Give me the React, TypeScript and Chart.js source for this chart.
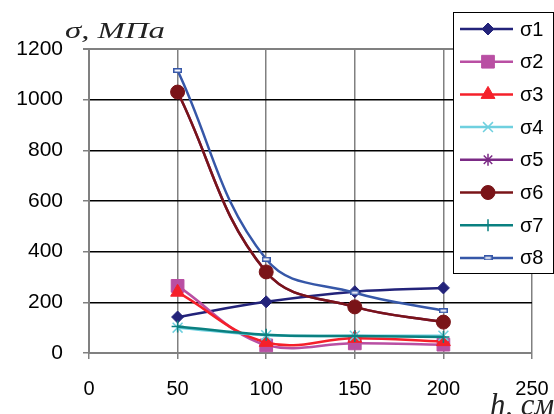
import React, { useEffect, useRef } from "react";
import { Chart, registerables } from "chart.js";
import { drawPoint } from "chart.js/helpers";

Chart.register(...registerables);

const heights = [50, 100, 150, 200];
const seriesNames = ["σ1", "σ2", "σ3", "σ4", "σ5", "σ6", "σ7", "σ8"];
const s1 = [142, 202, 242, 257];
const s2 = [265, 30, 38, 33];
const s3 = [240, 42, 58, 45];
const s4 = [100, 70, 68, 68];
const s5 = [1030, 320, 182, 122];
const s6 = [1030, 320, 182, 122];
const s7 = [105, 72, 67, 63];
const s8 = [1115, 370, 238, 167];
const seriesValues = [s1, s2, s3, s4, s5, s6, s7, s8];
const yTitle = "σ, МПа";
const xTitle = "h, см";

const colors = ["#23237A", "#B94FA3", "#F5202A", "#6FD0DF", "#7B2A85", "#7A1418", "#0A8080", "#3657A8"];

function makeDashMarker(color: string) {
  const c = document.createElement("canvas");
  c.width = 9;
  c.height = 5;
  const g = c.getContext("2d")!;
  g.fillStyle = "#fff";
  g.fillRect(0, 0, 9, 5);
  g.strokeStyle = color;
  g.lineWidth = 1.5;
  g.strokeRect(0.75, 0.75, 7.5, 3.5);
  return c;
}

function fitText(ctx: CanvasRenderingContext2D, text: string, font: string, x: number, y: number, width: number) {
  ctx.save();
  ctx.font = font;
  const w = ctx.measureText(text).width;
  ctx.translate(x, y);
  ctx.scale(width / w, 1);
  ctx.fillText(text, 0, 0);
  ctx.restore();
}

export default function App() {
  const ref = useRef<HTMLCanvasElement | null>(null);
  useEffect(() => {
    document.body.style.margin = "0";
    const dash = makeDashMarker(colors[7]);
    const styles: any[] = ["rectRot", "rect", "triangle", "crossRot", "star", "circle", "cross", dash];
    const radii = [6, 9, 8, 7, 6, 7, 6, 5];
    const datasets = seriesValues.map((vals, i) => ({
      label: seriesNames[i],
      data: vals.map((v, j) => ({ x: heights[j], y: v })),
      borderColor: colors[i],
      backgroundColor: colors[i],
      borderWidth: 2.5,
      pointStyle: styles[i],
      pointRadius: radii[i],
      pointBorderWidth: i === 3 || i === 4 || i === 6 ? 1.5 : 1,
      pointBorderColor: colors[i],
      pointBackgroundColor: colors[i],
      tension: 0.4,
      order: 8 - i,
    }));

    const overlay = {
      id: "overlay",
      afterDraw(chart: any) {
        const ctx = chart.ctx as CanvasRenderingContext2D;
        ctx.save();
        ctx.fillStyle = "#222";
        ctx.textBaseline = "alphabetic";
        ctx.textAlign = "left";
        fitText(ctx, yTitle, "italic 23px 'Liberation Serif'", 65, 38, 100);
        fitText(ctx, xTitle, "italic 32px 'Liberation Serif'", 490, 415, 64);
        const lx = 453.5, ly = 12.5, lw = 100, lh = 261;
        ctx.fillStyle = "#fff";
        ctx.fillRect(lx, ly, lw, lh);
        ctx.strokeStyle = "#000";
        ctx.lineWidth = 1;
        ctx.strokeRect(lx, ly, lw, lh);
        for (let i = 0; i < seriesNames.length; i++) {
          const y = 29 + i * 32.7;
          ctx.strokeStyle = colors[i];
          ctx.lineWidth = 2.5;
          ctx.beginPath();
          ctx.moveTo(460, y);
          ctx.lineTo(513, y);
          ctx.stroke();
          ctx.fillStyle = colors[i];
          ctx.strokeStyle = colors[i];
          ctx.lineWidth = i === 3 || i === 4 || i === 6 ? 1.5 : 1;
          drawPoint(ctx, { pointStyle: styles[i], radius: radii[i], rotation: 0, borderWidth: 1 } as any, 488, y);
          ctx.fillStyle = "#000";
          ctx.font = "20px 'Liberation Sans'";
          ctx.textBaseline = "middle";
          ctx.textAlign = "left";
          ctx.fillText(seriesNames[i], 520, y + 1);
        }
        ctx.restore();
      },
    };

    const chart = new Chart(ref.current!, {
      type: "line",
      data: { datasets: datasets as any },
      options: {
        animation: false,
        responsive: false,
        events: [],
        layout: { padding: { left: 0, top: 49, right: 22, bottom: 0 } },
        plugins: { legend: { display: false }, tooltip: { enabled: false } },
        scales: {
          x: {
            type: "linear",
            min: 0,
            max: 250,
            afterFit: (s: any) => { s.height = 61; s.paddingLeft = 0; s.paddingRight = 0; },
            ticks: { stepSize: 50, color: "#000", font: { family: "'Liberation Sans'", size: 20 }, padding: 18, maxRotation: 0, callback: (v: any) => String(v) },
            grid: {
              color: (c: any) => (c.tick && c.tick.value === 0 ? "rgba(0,0,0,0)" : "#808080"),
              lineWidth: 1.5,
              tickLength: 6,
              tickColor: "#808080",
            },
            border: { color: "#808080", width: 2 },
          },
          y: {
            min: 0,
            max: 1200,
            afterFit: (s: any) => { s.width = 89; s.paddingTop = 0; s.paddingBottom = 0; },
            ticks: { stepSize: 200, color: "#000", font: { family: "'Liberation Sans'", size: 21 }, padding: 20, callback: (v: any) => String(v) },
            grid: {
              color: (c: any) => {
                const v = c.tick ? c.tick.value : 0;
                if (v === 0) return "rgba(0,0,0,0)";
                return v === 1200 ? "#808080" : "#000";
              },
              lineWidth: (c: any) => (c.tick && (c.tick.value === 1200) ? 2 : 1.5),
              tickLength: 6,
              tickColor: "#808080",
            },
            border: { color: "#808080", width: 2 },
          },
        },
      },
      plugins: [overlay],
    });
    return () => chart.destroy();
  }, []);
  return <canvas ref={ref} width={554} height={414} style={{ display: "block" }} />;
}
